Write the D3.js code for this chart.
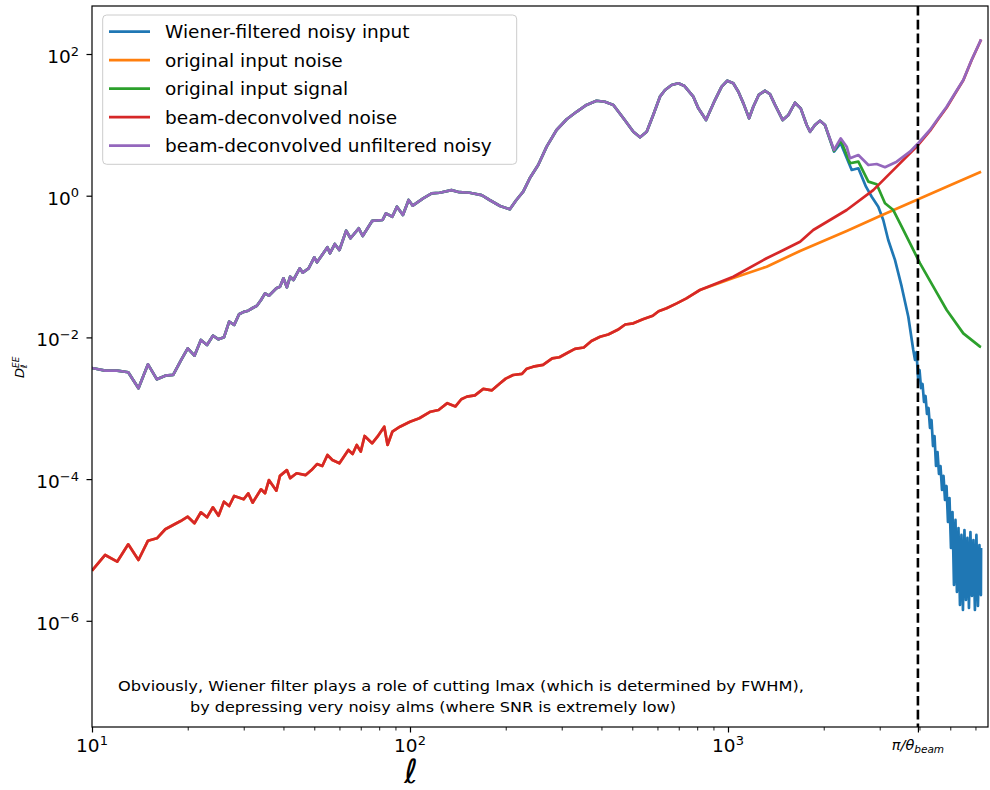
<!DOCTYPE html>
<html>
<head>
<meta charset="utf-8">
<script src="https://cdn.jsdelivr.net/npm/d3@7"></script>
<style>
body{margin:0;background:#fff}
svg{display:block;font-family:"DejaVu Sans",sans-serif}
</style>
</head>
<body>
<svg id="canvas" width="990" height="790"></svg>
<script>
// multipoles shared by the signal-dominated curves (blue, green, purple coincide here)
const ellSignal = [10,11,12,13,14,15,16,17,18,19,20,21,22,23,24,25,26,27,28,29,30,31,32,33,34,35,36,38,39,40,41,42,43,45,46,48,50,51,55,56,58,60,63,65,69,71,76,82,84,88,91,95,99,102,110,117,124,135,143,154,168,178,192,206,216,227,238,253,269,289,311,334,359,386,410,436,469,504,529,555,582,611,634,665,698,730,778,807,853,910,955,995,1039,1078,1118,1165,1201,1249,1308,1355,1406,1486,1549,1624,1693,1768,1811,1877,1947,2018]
const signalLow = [3.70e-3,3.39e-3,3.39e-3,3.22e-3,1.91e-3,4.17e-3,2.56e-3,2.88e-3,2.95e-3,4.65e-3,7.02e-3,5.52e-3,9.19e-3,7.82e-3,1.057e-2,9.40e-3,1.003e-2,1.67e-2,1.50e-2,2.12e-2,2.29e-2,2.38e-2,2.60e-2,2.80e-2,3.37e-2,4.19e-2,3.88e-2,4.93e-2,5.20e-2,6.83e-2,5.10e-2,7.19e-2,6.46e-2,9.45e-2,8.19e-2,9.45e-2,0.135,0.115,0.187,0.154,0.208,0.171,0.321,0.251,0.347,0.270,0.440,0.454,0.564,0.505,0.700,0.534,0.870,0.723,0.919,1.08,1.10,1.20,1.12,1.10,1.02,0.870,0.716,0.643,0.870,1.14,1.76,2.71,4.92,8.46,12.0,15.3,19.1,21.9,21.2,19.1,12.4,8.00,6.67,8.00,13.8,25.0,31.0,36.5,38.6,35.3,25.0,17.1,11.7,22.4,34.6,42.0,38.6,29.4,20.1,12.4,18.0,26.4,30.3,27.2,19.1,11.7,13.8,20.5,17.1,9.95,8.00,9.95,11.4,9.95]

// high-l tails
const ellPurpleTail = [2155,2261,2362,2419,2570,2763,2935,3117,3393,3735,3964,4315,4585,4872,5174,5495,5834,6202,6250]
const purpleTail = [4.42,6.46,4.92,3.37,3.75,2.71,2.80,2.52,3.02,4.18,5.50,8.46,12.4,18.0,27.9,43.0,82.3,149,161]

const ellGreenTail = [2155,2261,2419,2570,2763,2935,3117,3310,3517,3782,4017,4422,4872,5495,6202,6250]
const greenTail = [4.3,6.11,2.87,3.02,1.58,1.45,0.782,0.628,0.365,0.191,0.111,0.0520,0.0244,0.0114,7.40e-3,7.3e-3]

const ellBlueTail = [2155,2261,2449,2570,2716,2831,2969,3078,3191,3350,3517,3690,3825,3874,3917,3959,4002,4046,4090,4135,4180,4225,4271,4318,4365,4413,4461,4510,4559,4608,4659,4710,4761,4813,4866,4918,4972,5026,5081,5136,5192,5248,5306,5364,5422,5481,5541,5601,5662,5724,5786,5849,5913,5977,6042,6109,6175,6242,6250]
const blueTail = [4.2,5.50,2.31,2.44,1.34,0.968,0.700,0.454,0.237,0.124,0.0520,0.0196,6.64e-3,4.80e-3,6.22e-3,2.67e-3,3.47e-3,1.93e-3,2.20e-3,1.23e-3,1.49e-3,8.30e-4,1.01e-3,5.27e-4,6.83e-4,2.93e-4,4.06e-4,1.53e-4,2.41e-4,1.18e-4,1.53e-4,7.02e-5,1.11e-4,5.07e-5,8.00e-5,2.48e-5,5.41e-5,1.07e-5,3.43e-5,3.20e-6,2.65e-5,2.55e-6,2.04e-5,1.67e-6,1.63e-5,1.42e-6,1.91e-5,1.97e-6,1.48e-5,1.52e-6,1.79e-5,2.24e-6,1.38e-5,1.42e-6,1.63e-5,1.62e-6,1.17e-5,2.31e-6,1.07e-5]

// noise: input and beam-deconvolved agree at low l
const ellNoise = [10,11,12,13,14,15,16,17,18,19,20,21,22,23,24,25,26,27,28,30,31,32,34,35,36,38,39,41,42,44,47,49,51,53,55,57,60,64,66,68,70,72,76,79,83,85,88,93,100,107,116,123,131,139,145,151,160,170,181,192,200,211,225,233,244,262,280,295,311,330,352,372,396,420,450,475,504,540,580,605,641,690,740,780,816]
const noiseLow = [5.10e-6,8.49e-6,6.83e-6,1.20e-5,7.22e-6,1.35e-5,1.46e-5,1.96e-5,2.25e-5,2.56e-5,2.95e-5,2.38e-5,3.40e-5,2.89e-5,4.00e-5,3.04e-5,4.80e-5,4.17e-5,5.78e-5,5.19e-5,6.30e-5,4.65e-5,7.18e-5,6.30e-5,9.71e-5,6.86e-5,1.11e-4,1.34e-4,1.03e-4,1.21e-4,1.14e-4,1.34e-4,1.63e-4,1.53e-4,2.19e-4,1.86e-4,1.67e-4,2.58e-4,2.26e-4,3.03e-4,2.44e-4,4.06e-4,3.20e-4,3.97e-4,5.49e-4,3.03e-4,4.67e-4,5.49e-4,6.46e-4,7.22e-4,8.94e-4,9.45e-4,1.18e-3,1.06e-3,1.34e-3,1.46e-3,1.52e-3,1.88e-3,1.79e-3,2.25e-3,2.62e-3,2.95e-3,3.05e-3,3.62e-3,3.86e-3,4.10e-3,5.05e-3,5.25e-3,5.97e-3,6.9e-3,7.2e-3,8.9e-3,1.02e-2,1.10e-2,1.28e-2,1.52e-2,1.58e-2,1.80e-2,2.02e-2,2.34e-2,2.58e-2,3.02e-2,3.55e-2,4.12e-2,4.67e-2]

const ellRedTail = [1039,1323,1458,1685,1854,2362,2863,3393,3964,4315,4585,4872,5174,5495,5834,6202,6250]
const redTail = [7.19e-2,0.131,0.162,0.224,0.328,0.628,1.20,2.57,5.20,8.2,12.1,17.6,27.5,42.5,81.5,148,160]

const ellOrangeTail = [1039,1323,1685,2362,3006,3964,4872,6250]
const orangeTail = [6.90e-2,9.95e-2,0.166,0.318,0.517,0.892,1.34,2.18]

const ellBeam = 3956
const seriesNames = ['Wiener-filtered noisy input','original input noise','original input signal','beam-deconvolved noise','beam-deconvolved unfiltered noisy']
const seriesColors = ['#1f77b4','#ff7f0e','#2ca02c','#d62728','#9467bd']
const xTickValues = [10, 100, 1000]
const xTickExp = ['1', '2', '3']
const yTickValues = [1e2, 1, 1e-2, 1e-4, 1e-6]
const yTickExp = ['2', '0', '\u22122', '\u22124', '\u22126']

const canvas = d3.select('#canvas')
const plotLeft = 92, plotRight = 988, plotTop = 6, plotBottom = 727

const x = d3.scaleLog().domain([10, 6571]).range([plotLeft, plotRight])
const y = d3.scaleLog().domain([3.17e-8, 476]).range([plotBottom, plotTop])

const zip = (ls, vs) => ls.map((l, i) => [l, vs[i]])
const series = [
    zip(ellSignal.concat(ellBlueTail), signalLow.concat(blueTail)),
    zip(ellNoise.concat(ellOrangeTail), noiseLow.concat(orangeTail)),
    zip(ellSignal.concat(ellGreenTail), signalLow.concat(greenTail)),
    zip(ellNoise.concat(ellRedTail), noiseLow.concat(redTail)),
    zip(ellSignal.concat(ellPurpleTail), signalLow.concat(purpleTail))
]

canvas.append('defs').append('clipPath').attr('id', 'plotclip')
    .append('rect').attr('x', plotLeft).attr('y', plotTop)
    .attr('width', plotRight - plotLeft).attr('height', plotBottom - plotTop)

const line = d3.line().x(d => x(d[0])).y(d => y(d[1]))
const plot = canvas.append('g').attr('clip-path', 'url(#plotclip)')
series.forEach((s, i) => {
    plot.append('path').attr('d', line(s))
        .attr('fill', 'none')
        .attr('stroke', seriesColors[i])
        .attr('stroke-width', 2.7)
        .attr('stroke-linejoin', 'round')
})

// pi / theta_beam marker
plot.append('line')
    .attr('x1', x(ellBeam)).attr('x2', x(ellBeam))
    .attr('y1', plotTop).attr('y2', plotBottom)
    .attr('stroke', '#000').attr('stroke-width', 2.6)
    .attr('stroke-dasharray', '9.6,4.2')

// axes frame
canvas.append('rect')
    .attr('x', plotLeft).attr('y', plotTop)
    .attr('width', plotRight - plotLeft).attr('height', plotBottom - plotTop)
    .attr('fill', 'none').attr('stroke', '#000').attr('stroke-width', 1.2)

// x ticks
const xMinor = []
for (let dec = 10; dec < 10000; dec *= 10) {
    for (let k = 2; k < 10; k++) if (dec * k < 6571) xMinor.push(dec * k)
}
canvas.append('g').attr('transform', `translate(0,${plotBottom})`)
    .call(d3.axisBottom(x).tickValues(xMinor).tickSize(3.5).tickFormat(''))
    .call(g => g.select('.domain').remove())
    .call(g => g.selectAll('line').attr('stroke-width', 0.9))
canvas.append('g').attr('transform', `translate(0,${plotBottom})`)
    .call(d3.axisBottom(x).tickValues(xTickValues.concat([ellBeam])).tickSize(5.5).tickFormat(''))
    .call(g => g.select('.domain').remove())
    .call(g => g.selectAll('line').attr('stroke-width', 1.2))

xTickValues.forEach((v, i) => {
    const t = canvas.append('text')
        .attr('x', x(v)).attr('y', plotBottom + 25)
        .attr('text-anchor', 'middle').attr('font-size', 18.5).attr('fill', '#000')
    t.append('tspan').text('10')
    t.append('tspan').attr('font-size', 13).attr('dy', -7.5).text(xTickExp[i])
})

const beamLabel = canvas.append('text')
    .attr('x', x(ellBeam)).attr('y', plotBottom + 23)
    .attr('text-anchor', 'middle').attr('font-size', 14.5)
    .attr('font-style', 'italic').attr('fill', '#000')
beamLabel.append('tspan').text('\u03c0/\u03b8')
beamLabel.append('tspan').attr('font-size', 10.5).attr('dy', 3).text('beam')

// y ticks
canvas.append('g').attr('transform', `translate(${plotLeft},0)`)
    .call(d3.axisLeft(y).tickValues(yTickValues).tickSize(5.5).tickFormat(''))
    .call(g => g.select('.domain').remove())
    .call(g => g.selectAll('line').attr('stroke-width', 1.2))

yTickValues.forEach((v, i) => {
    const t = canvas.append('text')
        .attr('x', 79).attr('y', y(v) + 9)
        .attr('text-anchor', 'end').attr('font-size', 18.5).attr('fill', '#000')
    t.append('tspan').text('10')
    t.append('tspan').attr('font-size', 13).attr('dy', -7.5).text(yTickExp[i])
})

// axis labels
canvas.append('text')
    .attr('x', 411).attr('y', 783)
    .attr('text-anchor', 'middle').attr('font-size', 33)
    .attr('font-style', 'italic').text('\u2113')

const ylab = canvas.append('g').attr('transform', 'translate(24,367) rotate(-90)')
ylab.append('text').attr('x', -11).attr('y', 0).attr('font-size', 13).attr('font-style', 'italic').text('D')
ylab.append('text').attr('x', -1).attr('y', -5).attr('font-size', 9).attr('font-style', 'italic').text('EE')
ylab.append('text').attr('x', -1).attr('y', 3).attr('font-size', 9).attr('font-style', 'italic').text('\u2113')

// annotation
canvas.append('text')
    .attr('x', 118).attr('y', 691).attr('font-size', 14)
    .attr('textLength', 686).attr('lengthAdjust', 'spacingAndGlyphs')
    .text('Obviously, Wiener filter plays a role of cutting lmax (which is determined by FWHM),')
canvas.append('text')
    .attr('x', 190).attr('y', 712).attr('font-size', 14)
    .attr('textLength', 486).attr('lengthAdjust', 'spacingAndGlyphs')
    .text('by depressing very noisy alms (where SNR is extremely low)')

// legend
const legend = canvas.append('g')
legend.append('rect')
    .attr('x', 102.7).attr('y', 15).attr('width', 414).attr('height', 149.3)
    .attr('rx', 4).attr('fill', '#fff').attr('fill-opacity', 0.8)
    .attr('stroke', '#cccccc').attr('stroke-width', 1)
const legendItem = legend.selectAll('g.item')
    .data(seriesNames).enter().append('g').attr('class', 'item')
    .attr('transform', (d, i) => `translate(0,${31.7 + i * 28.5})`)
legendItem.append('line')
    .attr('x1', 109).attr('x2', 150).attr('y1', 0).attr('y2', 0)
    .attr('stroke', (d, i) => seriesColors[i]).attr('stroke-width', 2.7)
legendItem.append('text')
    .attr('x', 165).attr('y', 0).attr('dy', '0.36em')
    .attr('font-size', 18.5).attr('fill', '#000')
    .text(d => d)
</script>
</body>
</html>
